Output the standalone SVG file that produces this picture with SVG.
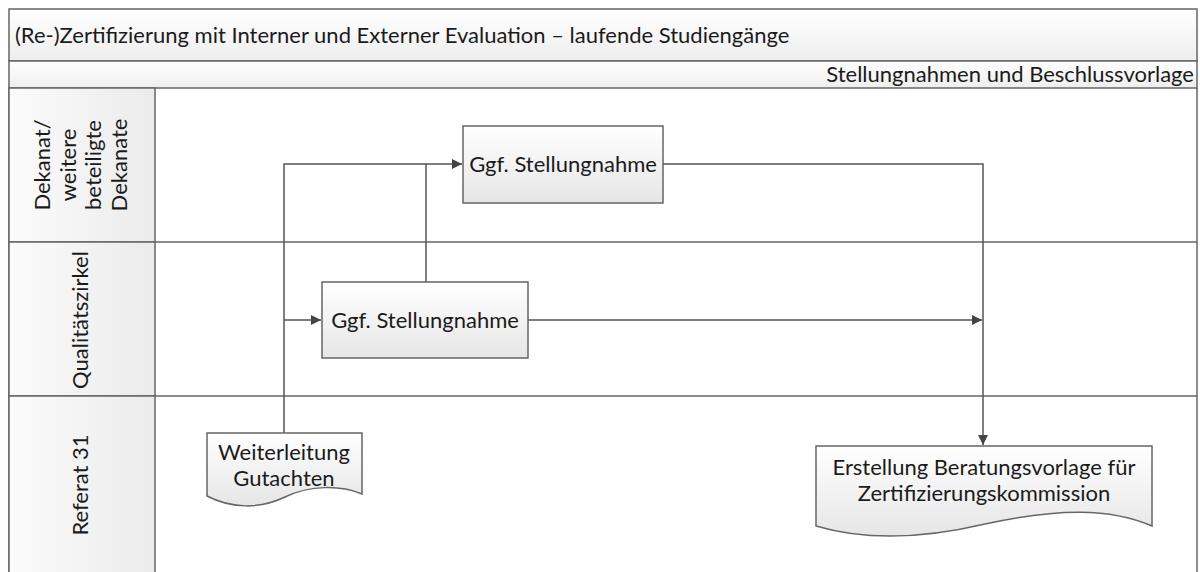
<svg xmlns="http://www.w3.org/2000/svg" width="1200" height="572" viewBox="0 0 1200 572">
<style>
text{font-family:Lato,"Open Sans","Liberation Sans",sans-serif;fill:#1b1b1b;font-size:22px}
.ln{fill:none;stroke:#555;stroke-width:1.5}
.frame{stroke:#666;stroke-width:1.5}
.box{fill:url(#gBox);stroke:#666;stroke-width:1.5}
</style>
<defs>
<linearGradient id="gBar" x1="0" y1="0" x2="0" y2="1"><stop offset="0" stop-color="#ffffff"/><stop offset="1" stop-color="#eeeeee"/></linearGradient>
<linearGradient id="gHead" x1="0" y1="0" x2="1" y2="0"><stop offset="0" stop-color="#fbfbfb"/><stop offset="1" stop-color="#ebebeb"/></linearGradient>
<linearGradient id="gBox" x1="0" y1="0" x2="0" y2="1"><stop offset="0" stop-color="#ffffff"/><stop offset="1" stop-color="#e6e6e6"/></linearGradient>
<marker id="arr" viewBox="0 0 10 10" refX="10" refY="5" markerWidth="10" markerHeight="10" markerUnits="userSpaceOnUse" orient="auto"><path d="M0,0 L10,5 L0,10 Z" fill="#444"/></marker>
</defs>
<rect x="0" y="0" width="1200" height="572" fill="#ffffff"/>
<g id="pool">
<rect x="9" y="9" width="1188" height="52" fill="url(#gBar)" class="frame"/>
<text x="15" y="43">(Re-)Zertifizierung mit Interner und Externer Evaluation – laufende Studiengänge</text>
<rect x="9" y="61" width="1188" height="27" fill="url(#gBar)" class="frame"/>
<text x="1194" y="82" text-anchor="end">Stellungnahmen und Beschlussvorlage</text>
<line x1="9" y1="88" x2="9" y2="580" class="frame"/>
<line x1="1197" y1="88" x2="1197" y2="580" class="frame"/>
</g>
<g id="lane-dekanat">
<rect x="9" y="88" width="146" height="154" fill="url(#gHead)" class="frame"/>
<line x1="155" y1="242" x2="1197" y2="242" class="frame"/>
<text transform="translate(0,165) rotate(-90)" text-anchor="middle"><tspan x="0" y="50">Dekanat/</tspan><tspan x="0" y="76">weitere</tspan><tspan x="0" y="101">beteiligte</tspan><tspan x="0" y="127">Dekanate</tspan></text>
</g>
<g id="lane-qz">
<rect x="9" y="242" width="146" height="154" fill="url(#gHead)" class="frame"/>
<line x1="155" y1="396" x2="1197" y2="396" class="frame"/>
<text transform="translate(88,320) rotate(-90)" text-anchor="middle">Qualitätszirkel</text>
</g>
<g id="lane-referat">
<rect x="9" y="396" width="146" height="184" fill="url(#gHead)" class="frame"/>
<text transform="translate(88,485) rotate(-90)" text-anchor="middle">Referat 31</text>
</g>
<g id="connectors">
<path d="M284,433 V164 H462" class="ln" marker-end="url(#arr)"/>
<path d="M284,320 H321" class="ln" marker-end="url(#arr)"/>
<path d="M426,282 V164" class="ln"/>
<path d="M663,164 H983 V445" class="ln" marker-end="url(#arr)"/>
<path d="M528,320 H982" class="ln" marker-end="url(#arr)"/>
</g>
<g id="node-stellung-dekanat">
<rect x="463" y="126" width="200" height="77" class="box"/>
<text x="563" y="172" text-anchor="middle">Ggf. Stellungnahme</text>
</g>
<g id="node-stellung-qz">
<rect x="322" y="282" width="206" height="76" class="box"/>
<text x="425" y="328" text-anchor="middle">Ggf. Stellungnahme</text>
</g>
<g id="node-weiterleitung">
<path d="M207,433 H362 V494 C340,485 310,485 285,497 C260,509 232,509 207,496 Z" class="box"/>
<text x="284" y="460" text-anchor="middle">Weiterleitung</text>
<text x="284" y="486" text-anchor="middle">Gutachten</text>
</g>
<g id="node-erstellung">
<path d="M816,446 H1152 V526 C1110,508 1060,508 985,524 C930,537 870,542 816,526 Z" class="box"/>
<text x="984" y="475" text-anchor="middle">Erstellung Beratungsvorlage für</text>
<text x="984" y="501" text-anchor="middle">Zertifizierungskommission</text>
</g>
</svg>
